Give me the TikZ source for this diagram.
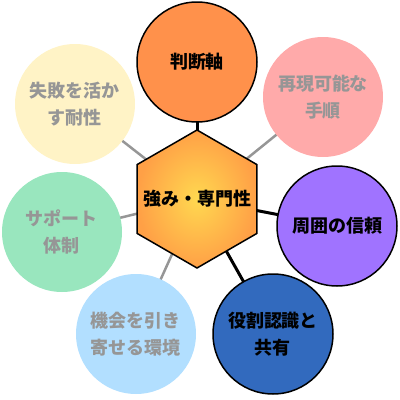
\documentclass[tikz,border=0pt]{standalone}
\usepackage{fontspec}
\usepackage{tikz}
\usetikzlibrary{shapes.geometric}
\usetikzlibrary{backgrounds}
\newfontfamily\jpfont{Noto Sans CJK JP}
\definecolor{hexin}{RGB}{255,216,80}
\definecolor{hexout}{RGB}{255,160,70}
\definecolor{orangefill}{RGB}{255,145,75}
\definecolor{pinkfill}{RGB}{255,170,170}
\definecolor{yellowfill}{RGB}{255,243,198}
\definecolor{greenfill}{RGB}{153,230,190}
\definecolor{purplefill}{RGB}{160,115,255}
\definecolor{bluefill}{RGB}{50,106,190}
\definecolor{skyfill}{RGB}{178,223,255}
\definecolor{fadetext}{RGB}{150,150,150}
\definecolor{fadeline}{RGB}{150,150,150}
\begin{document}
\begin{tikzpicture}[x=1pt,y=-1pt,
		bubble/.style={circle,minimum size=120pt,inner sep=0pt,align=center,
			font=\jpfont\bfseries\fontsize{18}{27}\selectfont},
		strong/.style={bubble,draw=black,line width=1.5pt,text=black},
		faded/.style={bubble,text=fadetext},
		link/.style={line width=3pt,black},
		fadelink/.style={line width=2.5pt,fadeline}]
		\useasboundingbox (0,0) rectangle (400,400);
		\node[regular polygon,regular polygon sides=6,shape border rotate=30,
			minimum size=138pt,inner sep=0pt,outer sep=0pt,draw=black,line width=1.5pt,
			inner color=hexin,outer color=hexout,
			font=\jpfont\bfseries\fontsize{18}{27}\selectfont] (core) at (197,199) {\makebox[0pt]{強み・専門性}};
		\node[strong,fill=orangefill] (judge) at (197,62) {判断軸};
		\node[faded,fill=pinkfill] (repro) at (323,97) {再現可能な\\手順};
		\node[faded,fill=yellowfill] (fail) at (75,104) {失敗を活か\\す耐性};
		\node[faded,fill=greenfill] (support) at (62,232) {サポート\\体制};
		\node[strong,fill=purplefill] (trust) at (337,226) {周囲の信頼};
		\node[strong,fill=bluefill] (role) at (273,334) {役割認識と\\共有};
		\node[faded,fill=skyfill] (chance) at (136,334) {機会を引き\\寄せる環境};
		% connectors behind
		\begin{scope}[on background layer]
			\draw[link] (core.center) -- (judge.center);
			\draw[link] (core.center) -- (trust.center);
			\draw[link] (core.center) -- (role.center);
			\draw[fadelink] (core.center) -- (repro.center);
			\draw[fadelink] (core.center) -- (fail.center);
			\draw[fadelink] (core.center) -- (support.center);
			\draw[fadelink] (core.center) -- (chance.center);
		\end{scope}
	\end{tikzpicture}
\end{document}
